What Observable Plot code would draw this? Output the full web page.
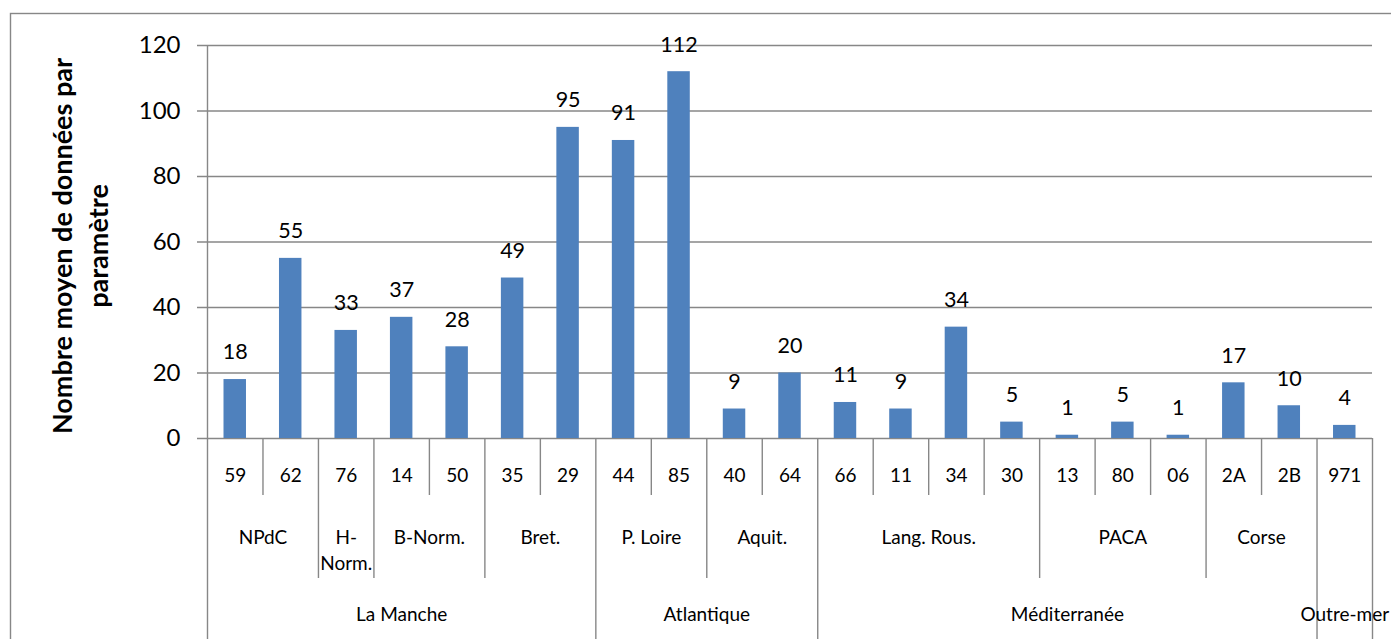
<!DOCTYPE html>
<html>
<head>
<meta charset="utf-8">
<script src="https://cdn.jsdelivr.net/npm/d3@7"></script>
<script src="https://cdn.jsdelivr.net/npm/@observablehq/plot@0.6"></script>
<style>
  html, body { margin: 0; padding: 0; background: #fff; }
  #chart svg { display: block; }
</style>
</head>
<body>
<div id="chart"></div>
<script>
// Départements, in display order
const depts = ["59", "62", "76", "14", "50", "35", "29", "44", "85", "40", "64",
               "66", "11", "34", "30", "13", "80", "06", "2A", "2B", "971"];

// Mean number of data per parameter, one value per département
const values = [18, 55, 33, 37, 28, 49, 95, 91, 112, 9, 20,
                11, 9, 34, 5, 1, 5, 1, 17, 10, 4];

// Region of each département
const regions = ["NPdC", "NPdC", "H-Norm.", "B-Norm.", "B-Norm.", "Bret.", "Bret.",
                 "P. Loire", "P. Loire", "Aquit.", "Aquit.",
                 "Lang. Rous.", "Lang. Rous.", "Lang. Rous.", "Lang. Rous.",
                 "PACA", "PACA", "PACA", "Corse", "Corse", ""];

// Maritime façade of each département
const facades = ["La Manche", "La Manche", "La Manche", "La Manche", "La Manche", "La Manche", "La Manche",
                 "Atlantique", "Atlantique", "Atlantique", "Atlantique",
                 "Méditerranée", "Méditerranée", "Méditerranée", "Méditerranée", "Méditerranée",
                 "Méditerranée", "Méditerranée", "Méditerranée", "Méditerranée",
                 "Outre-mer"];

// Value axis ticks
const yTicks = [0, 20, 40, 60, 80, 100, 120];

const axisTitle = ["Nombre moyen de données par", "paramètre"];

// ---- derived tables ----
const rows = depts.map((d, i) => ({i, dept: d, value: values[i]}));

// consecutive runs of an array -> {label, start, end}
function runs(arr) {
  const out = [];
  arr.forEach((label, i) => {
    const last = out[out.length - 1];
    if (last && last.label === label) last.end = i + 1;
    else out.push({label, start: i, end: i + 1});
  });
  return out;
}
const regionRuns = runs(regions);
const facadeRuns = runs(facades);

const n = depts.length;
const allBounds = d3.range(1, n);
const facadeBounds = [...facadeRuns.map(r => r.start).filter(s => s > 0), n];
const regionBounds = regionRuns.map(r => r.start).filter(s => s > 0 && !facadeBounds.includes(s));
const deptBounds = allBounds.filter(b => !facadeBounds.includes(b) && !regionBounds.includes(b));

const gray = "#878787";
const blue = "#4F81BD";
const lw = 1.4;
const font = "Lato, 'Open Sans', sans-serif";

const plot = Plot.plot({
  width: 1391,
  height: 639,
  marginLeft: 207,
  marginRight: 19,
  marginTop: 45,
  marginBottom: 201,
  style: {fontFamily: font, background: "#fff", color: "#000"},
  x: {type: "linear", domain: [0, n], axis: null},
  y: {domain: [0, 120], axis: null},
  marks: [
    // chart area border
    Plot.frame({stroke: gray, strokeWidth: lw, insetLeft: -197, insetTop: -32, insetRight: -60, insetBottom: -260}),
    // gridlines with their outward tick stubs
    Plot.ruleY(yTicks, {stroke: gray, strokeWidth: lw, insetLeft: -10}),
    Plot.axisY({ticks: yTicks, tickSize: 0, tickPadding: 27, fontSize: 24, label: null}),
    // bars
    Plot.rectY(rows, {x1: "i", x2: d => d.i + 1, y: "value", insetLeft: 16.5, insetRight: 16.5, fill: blue}),
    // value labels
    Plot.text(rows, {x: d => d.i + 0.5, y: "value", text: d => String(d.value), dy: -27, fontSize: 21.5, fill: "#000"}),
    // vertical axis line (also the left edge of the category table)
    Plot.ruleX([0], {stroke: gray, strokeWidth: lw, insetBottom: -201}),
    // category table dividers
    Plot.ruleX(facadeBounds, {stroke: gray, strokeWidth: lw, insetTop: 393, insetBottom: -201}),
    Plot.ruleX(regionBounds, {stroke: gray, strokeWidth: lw, insetTop: 393, insetBottom: -140}),
    Plot.ruleX(deptBounds, {stroke: gray, strokeWidth: lw, insetTop: 393, insetBottom: -57}),
    // category labels: départements, regions, façades
    Plot.text(rows, {x: d => d.i + 0.5, text: "dept", frameAnchor: "bottom", lineAnchor: "top", dy: 30, fontSize: 19, fill: "#000"}),
    Plot.text(regionRuns, {
      x: d => (d.start + d.end) / 2,
      text: d => (d.end - d.start === 1 ? d.label.replace("-", "-\n") : d.label),
      frameAnchor: "bottom", lineAnchor: "top", dy: 87, lineHeight: 1.37, fontSize: 19, fill: "#000"
    }),
    Plot.text(facadeRuns, {x: d => (d.start + d.end) / 2, text: "label", frameAnchor: "bottom", lineAnchor: "top", dy: 169, fontSize: 19, fill: "#000"})
  ]
});

// two-line rotated axis title
const title = d3.select(plot).append("text")
  .attr("transform", "translate(72,246) rotate(-90)")
  .attr("text-anchor", "middle")
  .attr("font-family", font)
  .attr("font-weight", "bold")
  .attr("font-size", 27)
  .attr("fill", "#000");
axisTitle.forEach((line, k) => {
  title.append("tspan").attr("x", 0).attr("y", k * 36).text(line);
});

document.getElementById("chart").append(plot);
</script>
</body>
</html>
